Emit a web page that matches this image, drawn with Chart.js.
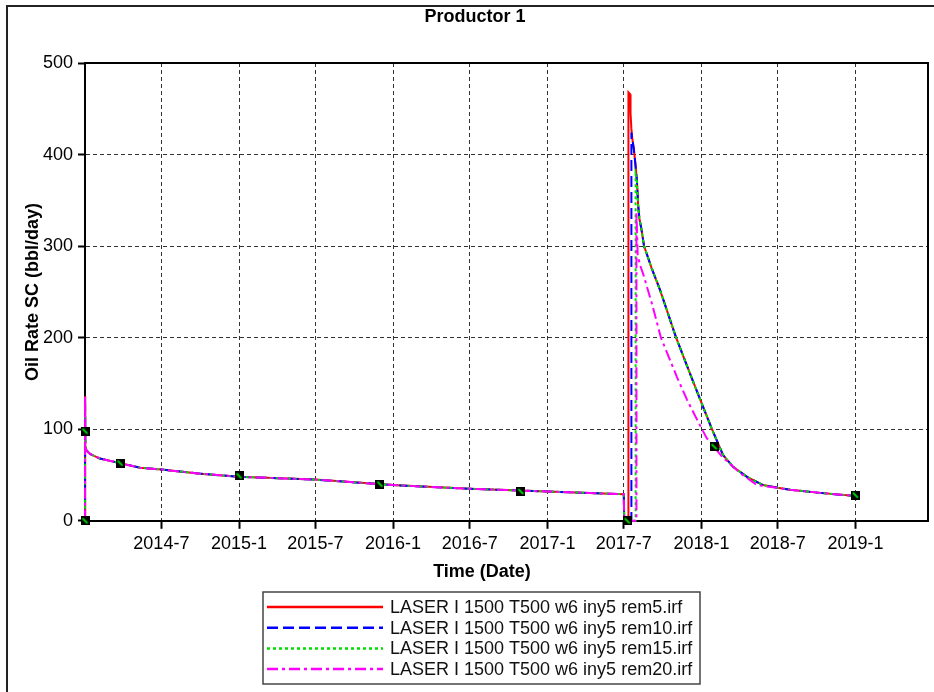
<!DOCTYPE html>
<html>
<head>
<meta charset="utf-8">
<title>Productor 1</title>
<script src="https://cdn.jsdelivr.net/npm/chart.js@4.4.1/dist/chart.umd.min.js"></script>
<style>
  html, body { margin:0; padding:0; background:#fff; overflow:hidden; }
  #wrap  { position:relative; width:934px; height:692px; overflow:hidden; }
  #frame { position:absolute; left:6px; top:5px; width:1000px; height:1000px;
           border-left:2px solid #222; border-top:2px solid #222; pointer-events:none; }
  canvas { position:absolute; left:0; top:0; }
</style>
</head>
<body>
<div id="wrap"><canvas id="c" width="934" height="692"></canvas><div id="frame"></div></div>
<script>
// ---- data (dates as YYYY-MM-DD, rates in bbl/day) ----
const START_DATE = '2014-01-01';
const END_DATE   = '2019-06-22';

const tickDates  = ['2014-07-01','2015-01-01','2015-07-01','2016-01-01','2016-07-01',
                    '2017-01-01','2017-07-01','2018-01-01','2018-07-01','2019-01-01'];
const tickLabels = ['2014-7','2015-1','2015-7','2016-1','2016-7',
                    '2017-1','2017-7','2018-1','2018-7','2019-1'];
const yTicks = [0, 100, 200, 300, 400, 500];

const xTitle = 'Time (Date)';
const seriesNames = [
  'LASER I 1500 T500 w6 iny5 rem5.irf',
  'LASER I 1500 T500 w6 iny5 rem10.irf',
  'LASER I 1500 T500 w6 iny5 rem15.irf',
  'LASER I 1500 T500 w6 iny5 rem20.irf'
];

// primary decline + shut-in, identical for the four runs
const baseDates = ['2014-01-01','2014-01-01','2014-01-02','2014-01-04','2014-01-13','2014-02-05',
                   '2014-03-25','2014-05-11','2014-07-01','2014-10-01','2015-01-01','2015-07-01',
                   '2016-01-01','2016-07-01','2017-01-01','2017-07-01','2017-07-02'];
const baseRates = [0,136,82,77,73,68,63,58,56,51.5,48,45,39,35,32,29,0];

// restart spikes
const rem5Dates  = ['2017-07-12','2017-07-12','2017-07-16','2017-07-17','2017-07-19'];
const rem5Rates  = [0,468,466,445,428];
const rem10Dates = ['2017-07-19','2017-07-19'];
const rem10Rates = [0,424];
const rem15Dates = ['2017-07-29','2017-07-29'];
const rem15Rates = [0,378];
const rem20Dates = ['2017-07-31','2017-07-31'];
const rem20Rates = [0,337];

// decline after restart shared by rem5 / rem10 / rem15
const tailDates = ['2017-07-21','2017-07-25','2017-07-28','2017-08-01','2017-08-04','2017-08-07',
                   '2017-08-12','2017-08-18','2017-09-05','2017-09-25','2017-11-02','2017-12-14',
                   '2018-01-01','2018-01-26','2018-02-21','2018-03-17','2018-04-19','2018-05-27',
                   '2018-07-01','2018-07-30','2018-10-09','2019-01-01'];
const tailRates = [418,405,392,372,345,330,318,300,276,252,200,150,129,100,72,59,48,39,36,34,30.5,27];

// rem20 decline
const rem20TailDates = ['2017-08-03','2017-08-08','2017-08-17','2017-09-07','2017-09-27','2017-11-04',
                        '2017-11-28','2017-12-31','2018-01-14','2018-02-21','2018-04-03','2018-05-13',
                        '2018-06-29','2018-07-30','2018-10-09','2019-01-01'];
const rem20TailRates = [290,280,268,235,200,157,132,102,90,69,52,39,36,34,30.5,27];

// observed history points (black squares)
const obsDates = ['2014-01-01','2014-01-01','2014-03-25','2015-01-01','2015-12-01',
                  '2016-10-30','2017-07-09','2018-01-31','2019-01-01'];
const obsRates = [98,0,63,49,40,32,0,81,28];

// ---- helpers ----
const FONT = '"Liberation Sans", Arial, sans-serif';

function day(s) {
  const [y, m, d] = s.split('-').map(Number);
  const [y0, m0, d0] = START_DATE.split('-').map(Number);
  return (Date.UTC(y, m - 1, d) - Date.UTC(y0, m0 - 1, d0)) / 864e5;
}
function pts(dates, rates) { return dates.map((d, i) => ({ x: day(d), y: rates[i] })); }
function after(dates, rates, from) { return pts(dates, rates).filter(p => p.x > day(from)); }

function run(rDates, rRates, tDates, tRates) {
  return pts(baseDates, baseRates)
    .concat(pts(rDates, rRates))
    .concat(after(tDates, tRates, rDates[rDates.length - 1]));
}

function obsMarker() {
  const c = document.createElement('canvas');
  c.width = 9; c.height = 9;
  const g = c.getContext('2d');
  g.fillStyle = '#000'; g.fillRect(0, 0, 9, 9);
  g.strokeStyle = '#00d000'; g.lineWidth = 2;
  g.beginPath(); g.moveTo(2, 2); g.lineTo(7, 7); g.stroke();
  return c;
}

const lineStyle = (color, dash, order) => ({
  borderColor: color, backgroundColor: color, borderWidth: 2, borderDash: dash,
  pointRadius: 0, pointStyle: 'line', tension: 0, fill: false, clip: false, order
});

// x-axis title, legend box and plot frame
const decor = {
  id: 'decor',
  beforeDatasetsDraw(chart) {
    const { ctx, chartArea: a } = chart;
    ctx.save();
    ctx.strokeStyle = '#000'; ctx.lineWidth = 2; ctx.setLineDash([]);
    ctx.beginPath();
    ctx.moveTo(a.left, a.top); ctx.lineTo(a.right, a.top); ctx.lineTo(a.right, a.bottom);
    ctx.stroke();
    ctx.restore();
  },
  afterDraw(chart) {
    const { ctx } = chart;
    ctx.save();
    // x axis title (centred on the figure like the original, not on the plot)
    ctx.font = 'bold 18px ' + FONT;
    ctx.fillStyle = '#000';
    ctx.textAlign = 'center'; ctx.textBaseline = 'middle';
    ctx.fillText(xTitle, 482, 572);

    // legend
    const box = { x: 263, y: 592, w: 437, h: 92 };
    ctx.strokeStyle = '#444'; ctx.lineWidth = 1.5; ctx.setLineDash([]);
    ctx.strokeRect(box.x, box.y, box.w, box.h);
    ctx.font = '18px ' + FONT;
    ctx.textAlign = 'left';
    ctx.fillStyle = '#111';
    chart.data.datasets.slice(0, 4).forEach((ds, i) => {
      const y = 607 + i * 20.7;
      ctx.strokeStyle = ds.borderColor; ctx.lineWidth = 2.5;
      ctx.setLineDash(ds.borderDash || []);
      ctx.beginPath(); ctx.moveTo(267, y); ctx.lineTo(383, y); ctx.stroke();
      ctx.fillText(ds.label, 390, y + 1);
    });
    ctx.restore();
  }
};

const gridOpts = { color: '#333', lineWidth: 1, tickColor: '#000', tickWidth: 2 };

new Chart(document.getElementById('c'), {
  type: 'line',
  data: {
    datasets: [
      { label: seriesNames[0], data: run(rem5Dates,  rem5Rates,  tailDates, tailRates), ...lineStyle('#ff0000', [], 4) },
      { label: seriesNames[1], data: run(rem10Dates, rem10Rates, tailDates, tailRates), ...lineStyle('#0000ff', [11, 5], 3) },
      { label: seriesNames[2], data: run(rem15Dates, rem15Rates, tailDates, tailRates), ...lineStyle('#00dd00', [3, 3], 2) },
      { label: seriesNames[3], data: run(rem20Dates, rem20Rates, rem20TailDates, rem20TailRates), ...lineStyle('#ff00ff', [11, 4, 3, 4], 1) },
      { label: 'Observed', data: pts(obsDates, obsRates), showLine: false,
        pointStyle: obsMarker(), pointRadius: 4.5, clip: false, order: 0 }
    ]
  },
  options: {
    responsive: false, animation: false, events: [],
    layout: { padding: { left: 22, right: 6, top: 0, bottom: 110 } },
    plugins: {
      legend: { display: false },
      tooltip: { enabled: false },
      title: { display: true, text: 'Productor 1', color: '#000',
               font: { family: FONT, size: 18, weight: 'bold' }, padding: { top: 6, bottom: 35.4 } }
    },
    scales: {
      x: {
        type: 'linear', min: 0, max: day(END_DATE),
        afterBuildTicks: s => { s.ticks = tickDates.map(d => ({ value: day(d) })); },
        afterFit: s => { s.height += 23.6; },   // room for the x title drawn by the plugin
        ticks: { callback: (v, i) => tickLabels[i], color: '#000', padding: 4,
                 maxRotation: 0, autoSkip: false, font: { family: FONT, size: 18 } },
        grid: { ...gridOpts, tickLength: 8 },
        border: { color: '#000', width: 2, dash: [4, 3] }
      },
      y: {
        min: 0, max: 500,
        afterBuildTicks: s => { s.ticks = yTicks.map(v => ({ value: v })); },
        afterFit: s => { s.width = 63; },
        ticks: { color: '#000', padding: 5, font: { family: FONT, size: 18 } },
        grid: { ...gridOpts, tickLength: 7 },
        border: { color: '#000', width: 2, dash: [4, 3] },
        title: { display: true, text: 'Oil Rate SC (bbl/day)', color: '#000',
                 font: { family: FONT, size: 18, weight: 'bold' }, padding: { top: 0, bottom: 0 } }
      }
    }
  },
  plugins: [decor]
});
</script>
</body>
</html>
